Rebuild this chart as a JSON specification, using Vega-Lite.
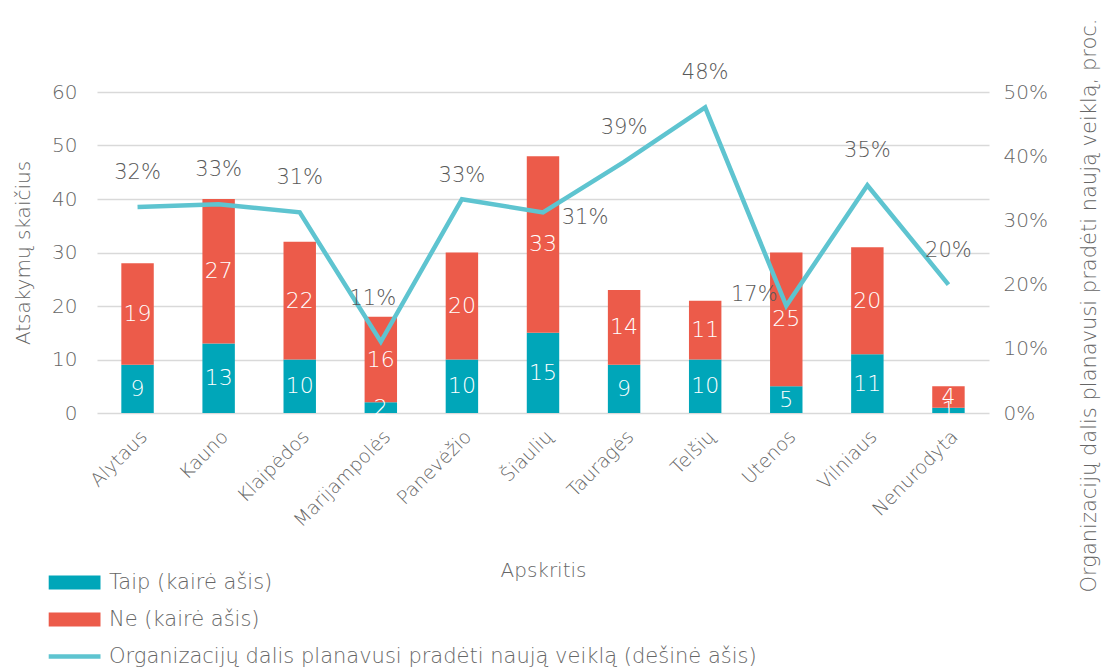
{
  "$schema": "https://vega.github.io/schema/vega-lite/v6.json",
  "width": 892,
  "height": 321,
  "autosize": {"type": "none"},
  "padding": {"left": 97, "top": 92, "right": 113, "bottom": 259},
  "config": {
    "font": "DejaVu Sans",
    "view": {"stroke": null},
    "text": {"fontWeight": 200},
    "axis": {"labelColor": "#666666", "titleColor": "#666666", "titleFontWeight": 200, "labelFontWeight": 200, "labelFont": "DejaVu Sans", "titleFont": "DejaVu Sans"}
  },
  "datasets": {
    "bars": [
      {"apskritis": "Alytaus", "atsakymas": "Taip (kairė ašis)", "n": 9},
      {"apskritis": "Alytaus", "atsakymas": "Ne (kairė ašis)", "n": 19},
      {"apskritis": "Kauno", "atsakymas": "Taip (kairė ašis)", "n": 13},
      {"apskritis": "Kauno", "atsakymas": "Ne (kairė ašis)", "n": 27},
      {"apskritis": "Klaipėdos", "atsakymas": "Taip (kairė ašis)", "n": 10},
      {"apskritis": "Klaipėdos", "atsakymas": "Ne (kairė ašis)", "n": 22},
      {"apskritis": "Marijampolės", "atsakymas": "Taip (kairė ašis)", "n": 2},
      {"apskritis": "Marijampolės", "atsakymas": "Ne (kairė ašis)", "n": 16},
      {"apskritis": "Panevėžio", "atsakymas": "Taip (kairė ašis)", "n": 10},
      {"apskritis": "Panevėžio", "atsakymas": "Ne (kairė ašis)", "n": 20},
      {"apskritis": "Šiaulių", "atsakymas": "Taip (kairė ašis)", "n": 15},
      {"apskritis": "Šiaulių", "atsakymas": "Ne (kairė ašis)", "n": 33},
      {"apskritis": "Tauragės", "atsakymas": "Taip (kairė ašis)", "n": 9},
      {"apskritis": "Tauragės", "atsakymas": "Ne (kairė ašis)", "n": 14},
      {"apskritis": "Telšių", "atsakymas": "Taip (kairė ašis)", "n": 10},
      {"apskritis": "Telšių", "atsakymas": "Ne (kairė ašis)", "n": 11},
      {"apskritis": "Utenos", "atsakymas": "Taip (kairė ašis)", "n": 5},
      {"apskritis": "Utenos", "atsakymas": "Ne (kairė ašis)", "n": 25},
      {"apskritis": "Vilniaus", "atsakymas": "Taip (kairė ašis)", "n": 11},
      {"apskritis": "Vilniaus", "atsakymas": "Ne (kairė ašis)", "n": 20},
      {"apskritis": "Nenurodyta", "atsakymas": "Taip (kairė ašis)", "n": 1},
      {"apskritis": "Nenurodyta", "atsakymas": "Ne (kairė ašis)", "n": 4}
    ],
    "line": [
      {"apskritis": "Alytaus", "dalis": 0.321},
      {"apskritis": "Kauno", "dalis": 0.3252},
      {"apskritis": "Klaipėdos", "dalis": 0.3125},
      {"apskritis": "Marijampolės", "dalis": 0.111},
      {"apskritis": "Panevėžio", "dalis": 0.333},
      {"apskritis": "Šiaulių", "dalis": 0.3125},
      {"apskritis": "Tauragės", "dalis": 0.391},
      {"apskritis": "Telšių", "dalis": 0.476},
      {"apskritis": "Utenos", "dalis": 0.167},
      {"apskritis": "Vilniaus", "dalis": 0.3548},
      {"apskritis": "Nenurodyta", "dalis": 0.2}
    ]
  },
  "encoding": {
    "x": {
      "field": "apskritis",
      "type": "nominal",
      "sort": ["Alytaus", "Kauno", "Klaipėdos", "Marijampolės", "Panevėžio", "Šiaulių", "Tauragės", "Telšių", "Utenos", "Vilniaus", "Nenurodyta"],
      "scale": {"paddingInner": 0.6, "paddingOuter": 0.3},
      "axis": {
        "title": "Apskritis",
        "titleFontSize": 20,
        "titleY": 147,
        "labelAngle": -45,
        "labelFontSize": 19,
        "labelPadding": 14,
        "domain": false,
        "ticks": false
      }
    }
  },
  "layer": [
    {
      "data": {"name": "bars"},
      "transform": [
        {"stack": "n", "groupby": ["apskritis"], "sort": [{"field": "atsakymas", "order": "descending"}], "as": ["n0", "n1"]},
        {"calculate": "(datum.n0 + datum.n1) / 2", "as": "vidurys"}
      ],
      "layer": [
        {
          "mark": {"type": "bar"},
          "encoding": {
            "y": {
              "field": "n0",
              "type": "quantitative",
              "scale": {"domain": [0, 60]},
              "axis": {
                "title": "Atsakymų skaičius",
                "titleFontSize": 20,
                "titlePadding": 18,
                "values": [0, 10, 20, 30, 40, 50, 60],
                "labelFontSize": 20,
                "labelPadding": 20,
                "domain": false,
                "ticks": false,
                "grid": true,
                "gridColor": "#D9D9D9",
                "gridWidth": 1.4
              }
            },
            "y2": {"field": "n1"},
            "color": {
              "field": "atsakymas",
              "type": "nominal",
              "scale": {
                "domain": ["Taip (kairė ašis)", "Ne (kairė ašis)", "Organizacijų dalis planavusi pradėti naują veiklą (dešinė ašis)"],
                "range": ["#00A6B9", "#EC5B4A", "#5EC4D0"]
              },
              "legend": {
                "title": null,
                "orient": "none",
                "legendX": -14,
                "legendY": 480,
                "direction": "vertical",
                "padding": 0,
                "labelFontSize": 21,
                "labelColor": "#666666",
                "labelFont": "DejaVu Sans",
                "labelFontWeight": 200,
                "labelOffset": 5,
                "labelLimit": 900,
                "rowPadding": 15,
                "symbolSize": 196,
                "symbolStrokeWidth": 0,
                "symbolType": "M-6.4,-1H1V1H-6.4Z",
                "encode": {
                  "symbols": {
                    "update": {
                      "shape": {"signal": "indexof(datum.value, 'Organizacij') === 0 ? 'M-6.4,-0.32H1V0.32H-6.4Z' : 'M-6.4,-1H1V1H-6.4Z'"},
                      "fill": {"scale": "color", "field": "value"},
                      "strokeWidth": {"value": 0},
                      "opacity": {"value": 1}
                    }
                  }
                }
              }
            }
          }
        },
        {
          "mark": {"type": "text", "color": "white", "fontSize": 22, "baseline": "middle"},
          "encoding": {
            "y": {"field": "vidurys", "type": "quantitative", "scale": {"domain": [0, 60]}},
            "text": {"field": "n", "type": "quantitative"}
          }
        }
      ]
    },
    {
      "data": {"name": "line"},
      "layer": [
        {
          "mark": {"type": "line", "strokeWidth": 4.5, "strokeJoin": "miter"},
          "encoding": {
            "y": {
              "field": "dalis",
              "type": "quantitative",
              "scale": {"domain": [0, 0.5]},
              "axis": {
                "orient": "right",
                "title": "Organizacijų dalis planavusi pradėti naują veiklą, proc.",
                "titleFontSize": 21,
                "titleAngle": 270,
                "titleY": 213,
                "titlePadding": 52,
                "values": [0, 0.05, 0.1, 0.15, 0.2, 0.25, 0.3, 0.35, 0.4, 0.45, 0.5],
                "format": ".0%",
                "labelFontSize": 20,
                "labelPadding": 14,
                "domain": false,
                "ticks": false,
                "grid": false
              }
            },
            "color": {"datum": "Organizacijų dalis planavusi pradėti naują veiklą (dešinė ašis)"}
          }
        },
        {
          "transform": [{"filter": "indexof(['Panevėžio','Marijampolės','Šiaulių','Utenos'], datum.apskritis) < 0"}],
          "mark": {"type": "text", "color": "#595959", "fontSize": 21, "baseline": "middle", "dy": -34},
          "encoding": {
            "y": {"field": "dalis", "type": "quantitative", "scale": {"domain": [0, 0.5]}},
            "text": {"field": "dalis", "type": "quantitative", "format": ".0%"}
          }
        },
        {
          "transform": [{"filter": "datum.apskritis === 'Panevėžio'"}],
          "mark": {"type": "text", "color": "#595959", "fontSize": 21, "baseline": "middle", "dy": -23},
          "encoding": {
            "y": {"field": "dalis", "type": "quantitative", "scale": {"domain": [0, 0.5]}},
            "text": {"field": "dalis", "type": "quantitative", "format": ".0%"}
          }
        },
        {
          "transform": [{"filter": "datum.apskritis === 'Marijampolės'"}],
          "mark": {"type": "text", "color": "#595959", "fontSize": 21, "baseline": "middle", "dx": -8, "dy": -43},
          "encoding": {
            "y": {"field": "dalis", "type": "quantitative", "scale": {"domain": [0, 0.5]}},
            "text": {"field": "dalis", "type": "quantitative", "format": ".0%"}
          }
        },
        {
          "transform": [{"filter": "datum.apskritis === 'Šiaulių'"}],
          "mark": {"type": "text", "color": "#595959", "fontSize": 21, "baseline": "middle", "dx": 42, "dy": 6},
          "encoding": {
            "y": {"field": "dalis", "type": "quantitative", "scale": {"domain": [0, 0.5]}},
            "text": {"field": "dalis", "type": "quantitative", "format": ".0%"}
          }
        },
        {
          "transform": [{"filter": "datum.apskritis === 'Utenos'"}],
          "mark": {"type": "text", "color": "#595959", "fontSize": 21, "baseline": "middle", "dx": -32, "dy": -11},
          "encoding": {
            "y": {"field": "dalis", "type": "quantitative", "scale": {"domain": [0, 0.5]}},
            "text": {"field": "dalis", "type": "quantitative", "format": ".0%"}
          }
        }
      ]
    }
  ],
  "resolve": {"scale": {"y": "independent"}}
}
